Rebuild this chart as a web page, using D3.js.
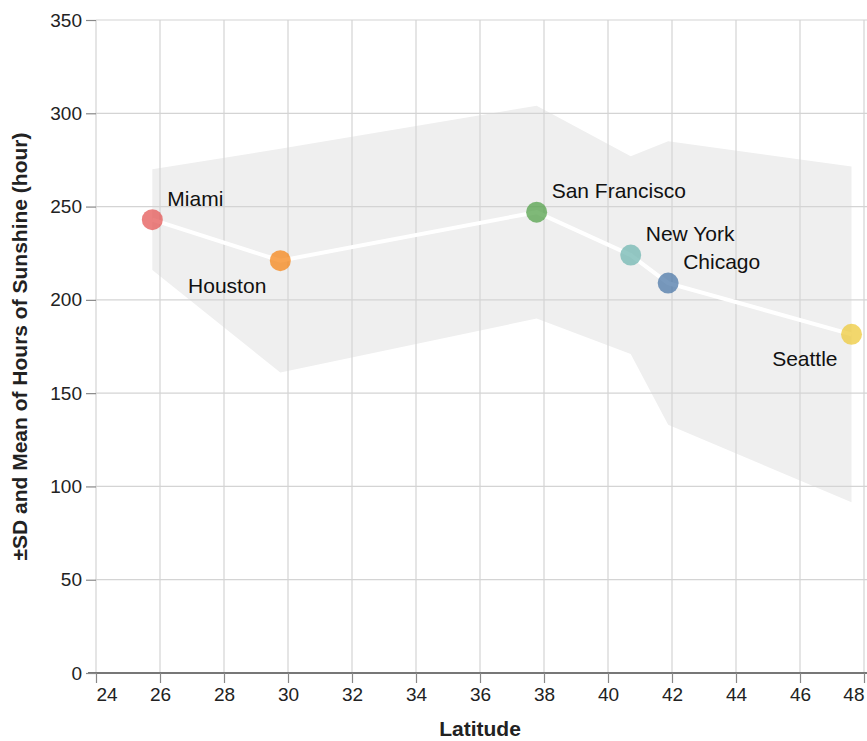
<!DOCTYPE html>
<html>
<head>
<meta charset="utf-8">
<script src="https://cdn.jsdelivr.net/npm/d3@7"></script>
<style>
  body { margin: 0; background: #fff; }
  text { font-family: "Liberation Sans", Arial, Helvetica, sans-serif; }
</style>
</head>
<body>
<svg id="chart"></svg>
<script>
// data
var cities = ["Miami", "Houston", "San Francisco", "New York", "Chicago", "Seattle"];
var latitude = [25.76, 29.76, 37.77, 40.71, 41.88, 47.61];
var meanSunshine = [243, 221, 247, 224, 209, 181.5];
var sdSunshine = [27, 60, 57, 53, 76, 90];

var xTicks = [24, 26, 28, 30, 32, 34, 36, 38, 40, 42, 44, 46, 48];
var yTicks = [0, 50, 100, 150, 200, 250, 300, 350];

// where each label sits next to its point
var labelSide = ["above-right", "below-left", "above-right", "above-right", "above-right", "below-left"];

var width = 867,
    height = 741,
    margin = {top: 20, right: 3, bottom: 68, left: 96};

var svg = d3.select("#chart")
    .attr("width", width)
    .attr("height", height);

var x = d3.scaleLinear()
    .domain([24, 48])
    .range([margin.left, width - margin.right]);

var y = d3.scaleLinear()
    .domain([0, 350])
    .range([height - margin.bottom, margin.top]);

var colour = d3.scaleOrdinal()
    .domain(cities.slice().sort())
    .range(["#4c78a8", "#f58518", "#e45756", "#72b7b2", "#54a24b", "#eeca3b"]);

var rows = cities.map(function(c, i) {
    return {city: c, lat: latitude[i], mean: meanSunshine[i], sd: sdSunshine[i], side: labelSide[i]};
});

// band first so the grid shows through it
var band = d3.area()
    .x(d => x(d.lat))
    .y0(d => y(d.mean - d.sd))
    .y1(d => y(d.mean + d.sd));

svg.append("path")
    .datum(rows)
    .attr("d", band)
    .attr("fill", "#efefef");

// grid
svg.append("g")
    .selectAll("line.vgrid")
    .data(xTicks)
    .join("line")
    .attr("x1", d => x(d)).attr("x2", d => x(d))
    .attr("y1", y(350)).attr("y2", y(0))
    .attr("stroke", "#d4d4d4")
    .attr("stroke-width", 1.2);

svg.append("g")
    .selectAll("line.hgrid")
    .data(yTicks)
    .join("line")
    .attr("x1", x(24)).attr("x2", width)
    .attr("y1", d => y(d)).attr("y2", d => y(d))
    .attr("stroke", "#d4d4d4")
    .attr("stroke-width", 1.2);

// x axis
var xAxis = svg.append("g")
    .attr("transform", "translate(0," + y(0) + ")")
    .call(d3.axisBottom(x).tickValues(xTicks).tickSize(10).tickPadding(5).tickSizeOuter(0));
xAxis.select(".domain").attr("stroke", "#777").attr("stroke-width", 2).attr("d", "M" + (x(24) - 8) + ",0H" + width);
xAxis.selectAll(".tick line").attr("stroke", "#888").attr("stroke-width", 1.2);
xAxis.selectAll(".tick text")
    .attr("font-size", 19).attr("fill", "#222").attr("font-family", null)
    // first and last labels flush with the plot edges
    .attr("text-anchor", (d, i) => i == 0 ? "start" : (i == xTicks.length - 1 ? "end" : "middle"));

// y axis
var yAxis = svg.append("g")
    .attr("transform", "translate(" + x(24) + ",0)")
    .call(d3.axisLeft(y).tickValues(yTicks).tickSize(10).tickPadding(4));
yAxis.select(".domain").remove();
yAxis.selectAll(".tick line").attr("stroke", "#888").attr("stroke-width", 1.2);
yAxis.selectAll(".tick text").attr("font-size", 19).attr("fill", "#222").attr("font-family", null);

// axis titles
svg.append("text")
    .attr("x", (x(24) + x(48)) / 2)
    .attr("y", 736)
    .attr("text-anchor", "middle")
    .attr("font-size", 21)
    .attr("font-weight", "bold")
    .attr("fill", "#222")
    .text("Latitude");

svg.append("text")
    .attr("transform", "translate(27," + (y(0) + y(350)) / 2 + ") rotate(-90)")
    .attr("text-anchor", "middle")
    .attr("font-size", 21)
    .attr("font-weight", "bold")
    .attr("fill", "#222")
    .text("\u00b1SD and Mean of Hours of Sunshine (hour)");

// mean line
var line = d3.line()
    .x(d => x(d.lat))
    .y(d => y(d.mean));

svg.append("path")
    .datum(rows)
    .attr("d", line)
    .attr("fill", "none")
    .attr("stroke", "#fff")
    .attr("stroke-width", 4);

// points
svg.append("g")
    .selectAll("circle")
    .data(rows)
    .join("circle")
    .attr("cx", d => x(d.lat))
    .attr("cy", d => y(d.mean))
    .attr("r", 10.5)
    .attr("fill", d => colour(d.city))
    .attr("fill-opacity", 0.75);

// labels
svg.append("g")
    .selectAll("text")
    .data(rows)
    .join("text")
    .attr("x", d => x(d.lat) + (d.side == "above-right" ? 15 : -14))
    .attr("y", d => y(d.mean) + (d.side == "above-right" ? -14 : 32))
    .attr("text-anchor", d => d.side == "above-right" ? "start" : "end")
    .attr("font-size", 21)
    .attr("fill", "#111")
    .text(d => d.city);
</script>
</body>
</html>
